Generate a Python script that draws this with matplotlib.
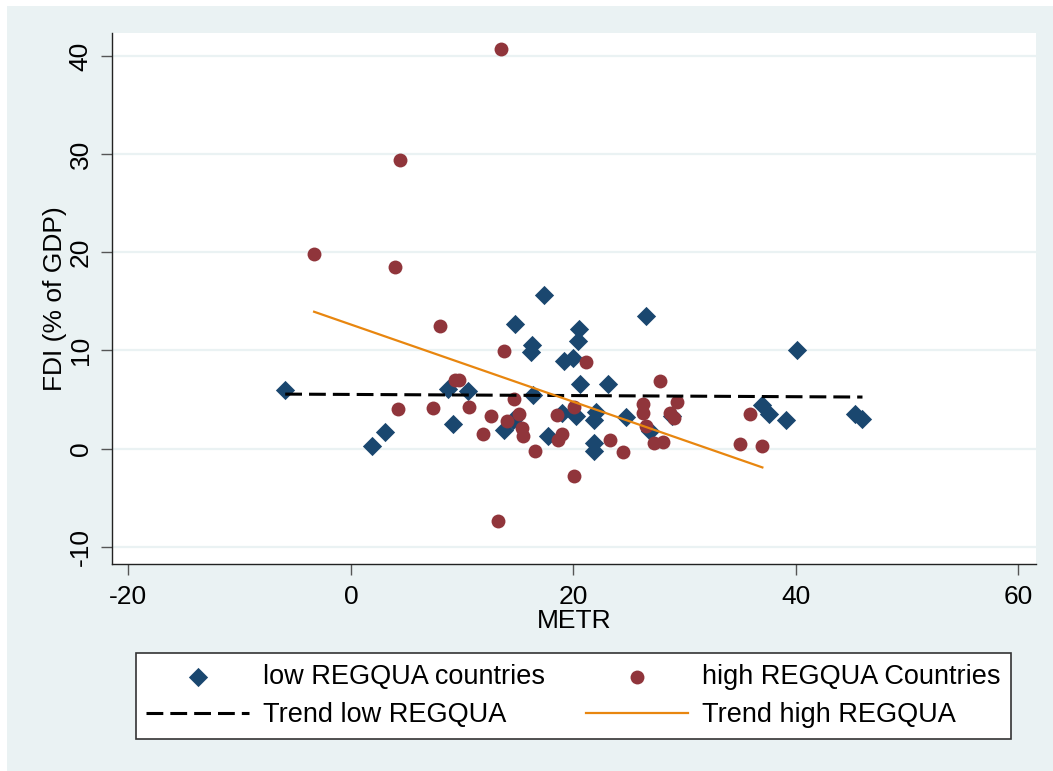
import matplotlib
matplotlib.use("Agg")
import matplotlib.pyplot as plt
from matplotlib.patches import Rectangle

plt.rcParams['font.family'] = ['Liberation Sans', 'DejaVu Sans']

# low REGQUA countries (METR, FDI % of GDP)
low_metr = [-5.9, 1.9, 3.1, 8.7, 9.2, 10.5, 13.75, 14.6, 14.8, 16.2, 16.3, 16.4,
            17.4, 17.7, 19.0, 19.2, 20.0, 20.2, 20.4, 20.5, 20.6, 22.0, 21.9,
            21.9, 21.9, 23.1, 24.7, 26.5, 26.9, 28.9, 37.0, 37.6, 39.1, 40.1,
            45.3, 46.0]
low_fdi = [6.0, 0.3, 1.7, 6.1, 2.55, 5.85, 1.9, 2.9, 12.7, 9.8, 10.6, 5.5,
           15.6, 1.25, 3.6, 8.9, 9.25, 3.3, 11.0, 12.2, 6.6, 3.7, 2.9,
           0.6, -0.2, 6.6, 3.2, 13.5, 1.8, 3.3, 4.4, 3.5, 2.9, 10.0,
           3.5, 3.0]

# high REGQUA countries
high_metr = [-3.3, 4.0, 4.4, 4.2, 7.4, 8.0, 9.4, 9.7, 10.6, 11.9, 12.6, 13.2,
             13.5, 13.8, 14.0, 14.7, 15.1, 15.4, 15.5, 16.6, 18.5, 18.6, 19.0,
             20.1, 20.1, 21.1, 23.3, 24.5, 26.3, 26.3, 26.5, 27.3, 27.8, 28.1,
             28.7, 29.1, 29.3, 35.0, 35.9, 37.0]
high_fdi = [19.8, 18.5, 29.4, 4.05, 4.1, 12.5, 7.0, 7.0, 4.2, 1.5, 3.35, -7.35,
            40.7, 9.9, 2.8, 5.05, 3.5, 2.1, 1.3, -0.2, 3.4, 0.9, 1.5,
            4.2, -2.8, 8.8, 0.85, -0.3, 4.5, 3.6, 2.35, 0.6, 6.9, 0.7,
            3.6, 3.1, 4.7, 0.5, 3.5, 0.25]

# fitted trend lines (end points)
trend_low_x = [-5.9, 46.0]
trend_low_y = [5.55, 5.25]
trend_high_x = [-3.3, 37.0]
trend_high_y = [13.94, -1.92]

x_ticks = [-20, 0, 20, 40, 60]
y_ticks = [-10, 0, 10, 20, 30, 40]

bg = '#eaf2f3'
navy = '#1a476f'
maroon = '#90353b'
orange = '#e8860f'
fs = 19

fig = plt.figure(figsize=(10.53, 7.71), dpi=100, facecolor='white')
fig.patches.append(Rectangle((7 / 1053, 0), 1 - 7 / 1053, 1 - 6 / 771,
                             transform=fig.transFigure, facecolor=bg,
                             edgecolor='none', zorder=-10))

ax = fig.add_axes([112 / 1053, 1 - 564 / 771, 924 / 1053, 531 / 771])
ax.set_facecolor('white')

ax.scatter(low_metr, low_fdi, marker='D', s=9.8 ** 2, color=navy,
           linewidths=0, zorder=3, label='low REGQUA countries')
ax.scatter(high_metr, high_fdi, marker='o', s=10 ** 2, color=maroon,
           linewidths=0, zorder=3, label='high REGQUA Countries')
ax.plot(trend_low_x, trend_low_y, color='black', lw=2.2, dashes=(5.5, 2.3),
        zorder=4, label='Trend low REGQUA')
ax.plot(trend_high_x, trend_high_y, color=orange, lw=1.6, zorder=4,
        label='Trend high REGQUA')

ax.set_xlim(-21.47, 61.6)
ax.set_ylim(-11.76, 42.34)
ax.set_xticks(x_ticks)
ax.set_yticks(y_ticks)
ax.set_xticklabels([str(t) for t in x_ticks])
ax.set_yticklabels([str(t) for t in y_ticks], rotation=90, va='center')
ax.grid(axis='y', color=bg, lw=1.6, zorder=0)
ax.set_axisbelow(True)

for side in ['top', 'right']:
    ax.spines[side].set_visible(False)
for side in ['left', 'bottom']:
    ax.spines[side].set_color('#222222')
    ax.spines[side].set_linewidth(1.0)

ax.tick_params(axis='both', direction='out', length=8, width=1,
               color='#555555', labelsize=fs)
ax.tick_params(axis='y', pad=6)
ax.tick_params(axis='x', pad=7)

ax.set_xlabel('METR', fontsize=fs, labelpad=0)
ax.set_ylabel('FDI (% of GDP)', fontsize=fs, labelpad=1)

handles, labels = ax.get_legend_handles_labels()
order = [0, 2, 1, 3]
leg = fig.legend([handles[i] for i in order], [labels[i] for i in order],
                 loc='center', bbox_to_anchor=(573.5 / 1053, 1 - 696 / 771),
                 ncol=2, fontsize=fs + 0.5, frameon=True, fancybox=False,
                 edgecolor='#333333', facecolor='white', framealpha=1,
                 handlelength=3.8, handletextpad=0.5, columnspacing=1.5,
                 borderpad=0.4, labelspacing=0.45, scatterpoints=1)
leg.get_frame().set_linewidth(1.2)

fig.savefig('out.png', dpi=100, facecolor=fig.get_facecolor())
